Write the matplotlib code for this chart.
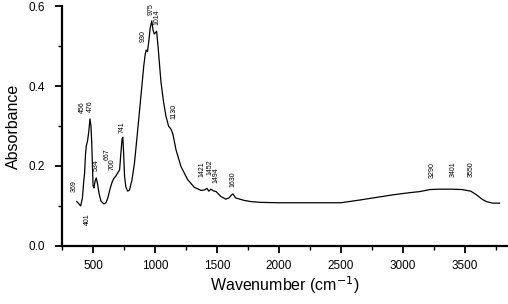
import matplotlib
matplotlib.use('Agg')
import matplotlib.pyplot as plt
from matplotlib.ticker import MultipleLocator

plt.rcParams['font.family'] = ['Liberation Sans', 'DejaVu Sans']

# FTIR spectrum
wavenumber = [369, 385, 401, 415, 425, 432, 440, 446, 456, 466, 476, 484, 490, 496,
              501, 508, 518, 527, 537, 550, 565, 588, 605, 620, 640, 655, 667, 685,
              700, 715, 725, 735, 741, 748, 755, 765, 780, 795, 815, 835, 855, 875,
              895, 910, 922, 930, 940, 950, 962, 975, 985, 995, 1014, 1025, 1049,
              1070, 1089, 1110, 1130, 1145, 1170, 1210, 1264, 1317, 1371, 1400, 1421,
              1435, 1452, 1470, 1494, 1531, 1572, 1598, 1620, 1630, 1652, 1719, 1773,
              1853, 2000, 2500, 2657, 2800, 2925, 3050, 3139, 3219, 3290, 3401, 3480,
              3550, 3595, 3640, 3675, 3728, 3782]
absorbance = [0.111, 0.106, 0.100, 0.120, 0.160, 0.180, 0.230, 0.250, 0.262, 0.285,
              0.318, 0.300, 0.260, 0.200, 0.150, 0.145, 0.163, 0.170, 0.155, 0.130,
              0.112, 0.105, 0.108, 0.120, 0.145, 0.160, 0.168, 0.175, 0.183, 0.190,
              0.230, 0.268, 0.272, 0.230, 0.175, 0.148, 0.137, 0.140, 0.165, 0.207,
              0.270, 0.335, 0.400, 0.450, 0.480, 0.490, 0.486, 0.510, 0.545, 0.563,
              0.540, 0.530, 0.537, 0.500, 0.410, 0.360, 0.325, 0.300, 0.292, 0.280,
              0.241, 0.199, 0.166, 0.147, 0.139, 0.140, 0.144, 0.137, 0.142, 0.138,
              0.136, 0.124, 0.117, 0.120, 0.128, 0.130, 0.120, 0.114, 0.111, 0.109,
              0.108, 0.108, 0.115, 0.122, 0.128, 0.133, 0.136, 0.141, 0.142, 0.142,
              0.141, 0.137, 0.128, 0.117, 0.111, 0.107, 0.107]

# peak labels and where their text sits
peak_labels = ['369', '401', '456', '476', '534', '667', '700', '741', '930', '975',
               '1014', '1130', '1421', '1452', '1494', '1630', '3290', '3401', '3550']
label_x = [350, 452, 414, 478, 527, 618, 658, 736, 904, 969,
           1017, 1154, 1379, 1443, 1491, 1628, 3236, 3405, 3550]
label_y = [0.151, 0.066, 0.346, 0.349, 0.201, 0.230, 0.204, 0.296, 0.525, 0.593,
           0.572, 0.336, 0.191, 0.196, 0.178, 0.168, 0.191, 0.193, 0.191]

fig = plt.figure(figsize=(5.08, 3.04), dpi=100)
ax = fig.add_axes([0.122, 0.191, 0.878, 0.789])

ax.plot(wavenumber, absorbance, color='black', linewidth=0.9)

for lab, lx, ly in zip(peak_labels, label_x, label_y):
    ax.text(lx, ly, lab, rotation=90, ha='center', va='center', fontsize=5.0)

ax.set_xlim(250, 3850)
ax.set_ylim(0, 0.6)
ax.xaxis.set_major_locator(MultipleLocator(500))
ax.xaxis.set_minor_locator(MultipleLocator(250))
ax.yaxis.set_major_locator(MultipleLocator(0.2))
ax.yaxis.set_minor_locator(MultipleLocator(0.1))
ax.yaxis.set_major_formatter(plt.FormatStrFormatter('%.1f'))

ax.spines['top'].set_visible(False)
ax.spines['right'].set_visible(False)
for s in ['left', 'bottom']:
    ax.spines[s].set_linewidth(1.6)
ax.tick_params(which='major', direction='out', length=5, width=1.3, labelsize=8.5, pad=5)
ax.tick_params(which='minor', direction='out', length=3, width=1.0)
ax.tick_params(axis='y', which='major', pad=7)

ax.set_xlabel('Wavenumber (cm$^{-1}$)', fontsize=11.5, labelpad=2)
ax.set_ylabel('Absorbance', fontsize=11.5, labelpad=6)

fig.savefig('out.png', dpi=100)
